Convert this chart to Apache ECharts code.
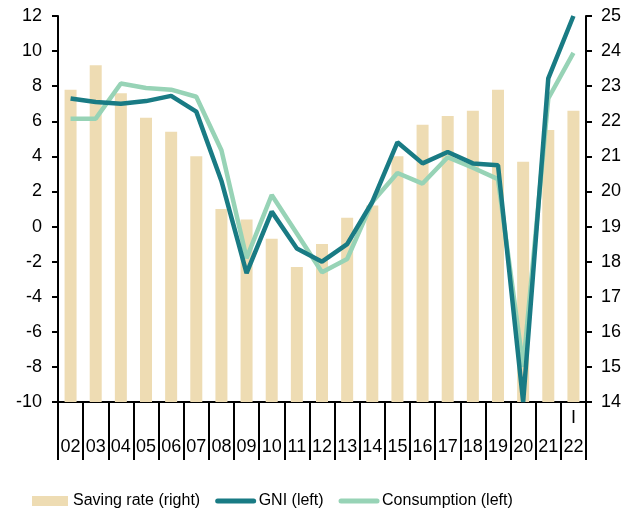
<!DOCTYPE html>
<html>
<head>
<meta charset="utf-8">
<script src="https://cdn.jsdelivr.net/npm/echarts@6/dist/echarts.min.js"></script>
<style>
  html, body { margin: 0; padding: 0; background: #fff; }
  #main { width: 632px; height: 514px; }
</style>
</head>
<body>
<div id="main"></div>
<script>
// years (second label row) and quarter marker (first row)
const years = ['02','03','04','05','06','07','08','09','10','11','12','13','14','15','16','17','18','19','20','21','22'];
const quarters = ['','','','','','','','','','','','','','','','','','','','','I'];
// saving rate, right axis
const savingRate = [22.9,23.6,22.8,22.1,21.7,21.0,19.5,19.2,18.65,17.85,18.5,19.25,19.6,21.0,21.9,22.15,22.3,22.9,20.85,21.75,22.3];
// left axis
const gni = [7.3,7.1,7.0,7.15,7.45,6.55,2.6,-2.65,0.85,-1.25,-2.0,-1.0,1.4,4.8,3.6,4.25,3.6,3.5,-10,8.45,12];
const consumption = [6.15,6.15,8.15,7.9,7.8,7.4,4.35,-1.8,1.8,-0.4,-2.6,-1.85,1.4,3.05,2.45,3.95,3.35,2.7,-8.0,7.3,9.9];

const chart = echarts.init(document.getElementById('main'));
const font = 'Liberation Sans, Arial, sans-serif';
const black = '#000';
const noSymbol = { color: 'rgba(0,0,0,0)', borderWidth: 0 };
const legendLine = { width: 5, cap: 'round' };

const option = {
  animation: false,
  textStyle: { fontFamily: font },
  grid: { left: 58, right: 46, top: 16, bottom: 112 },
  legend: {
    left: 27,
    top: 488,
    itemWidth: 36,
    itemHeight: 10,
    itemGap: 15,
    textStyle: { fontSize: 16, color: black, fontFamily: font },
    data: [
      { name: 'Saving rate (right)', icon: 'rect' },
      { name: 'GNI (left)', itemStyle: noSymbol, lineStyle: legendLine },
      { name: 'Consumption (left)', itemStyle: noSymbol, lineStyle: legendLine }
    ]
  },
  xAxis: {
    type: 'category',
    data: years.map((y, i) => quarters[i] + '\n' + y),
    boundaryGap: true,
    axisLine: { onZero: false, lineStyle: { color: black, width: 2 } },
    axisTick: { show: true, interval: 0, length: 58, lineStyle: { color: black, width: 2 } },
    axisLabel: {
      interval: 0,
      margin: 2,
      color: black,
      fontSize: 18,
      lineHeight: 29,
      fontFamily: font
    },
    splitLine: { show: false }
  },
  yAxis: [
    {
      type: 'value',
      min: -10, max: 12, interval: 2,
      axisLine: { show: true, onZero: false, lineStyle: { color: black, width: 2 } },
      axisTick: { show: true, length: 6, lineStyle: { color: black, width: 2 } },
      axisLabel: { color: black, fontSize: 18, margin: 16, fontFamily: font },
      splitLine: { show: false }
    },
    {
      type: 'value',
      min: 14, max: 25, interval: 1,
      position: 'right',
      axisLine: { show: true, onZero: false, lineStyle: { color: black, width: 2 } },
      axisTick: { show: true, length: 6, lineStyle: { color: black, width: 2 } },
      axisLabel: { color: black, fontSize: 18, margin: 15, fontFamily: font },
      splitLine: { show: false }
    }
  ],
  series: [
    {
      name: 'Saving rate (right)',
      type: 'bar',
      yAxisIndex: 1,
      barWidth: 12,
      itemStyle: { color: '#eedcb3' },
      data: savingRate
    },
    {
      name: 'GNI (left)',
      type: 'line',
      yAxisIndex: 0,
      symbol: 'none',
      lineStyle: { color: '#197b84', width: 4.5 },
      itemStyle: { color: '#197b84' },
      z: 4,
      data: gni
    },
    {
      name: 'Consumption (left)',
      type: 'line',
      yAxisIndex: 0,
      symbol: 'none',
      lineStyle: { color: '#97d3b6', width: 4.5 },
      itemStyle: { color: '#97d3b6' },
      z: 3,
      data: consumption
    }
  ]
};

chart.setOption(option);
</script>
</body>
</html>
